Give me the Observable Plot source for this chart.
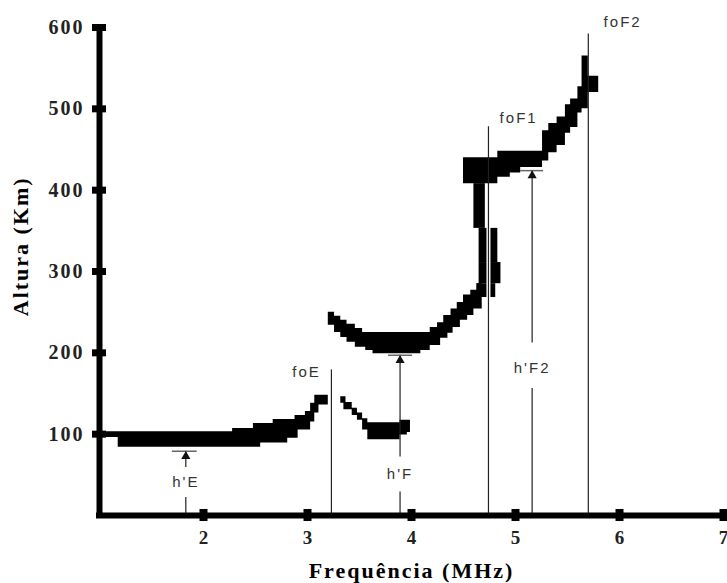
<!DOCTYPE html>
<html>
<head>
<meta charset="utf-8">
<script src="https://cdn.jsdelivr.net/npm/d3@7"></script>
<script src="https://cdn.jsdelivr.net/npm/@observablehq/plot@0.6"></script>
<style>
  html, body { margin: 0; padding: 0; background: #fff; }
  #chart svg text { letter-spacing: 2px; }
</style>
</head>
<body>
<div id="chart"></div>
<script>
// Tick values
const xTicks = [2, 3, 4, 5, 6, 7];
const yTicks = [100, 200, 300, 400, 500, 600];

// E-layer trace (frequency MHz, lower / upper virtual height km)
const eFreq = [1.03, 1.18, 2.28, 2.48, 2.55, 2.67, 2.81, 2.88, 2.91, 2.98, 3.03, 3.07, 3.11, 3.20];
const eLow  = [96,   84,   84,   84,   89,   89,   95,   95,   105,  105,  115,  126,  136,  136];
const eHigh = [103,  103,  107,  113,  113,  118,  118,  123,  123,  128,  138,  148,  148,  148];

// Lower F trace (after foE)
const lfFreq = [3.32, 3.35, 3.37, 3.43, 3.48, 3.53, 3.58, 3.89, 3.96, 3.99];
const lfLow  = [138,  130,  130,  123,  117,  105,  93,   99,   102,  102];
const lfHigh = [146,  146,  139,  132,  126,  119,  114,  117,  117,  117];

// F1 trace (U-shape)
const ufFreq = [3.20, 3.26, 3.32, 3.38, 3.46, 3.53, 3.56, 3.63, 4.09, 4.18, 4.25, 4.28, 4.31, 4.35, 4.38, 4.40, 4.44, 4.47, 4.50, 4.54, 4.57, 4.60, 4.63, 4.68];
const ufLow  = [234,  225,  219,  213,  207,  207,  203,  199,  203,  209,  209,  218,  218,  224,  224,  231,  231,  240,  240,  246,  246,  254,  254,  254];
const ufHigh = [250,  245,  240,  235,  230,  225,  225,  225,  225,  231,  237,  237,  246,  246,  254,  254,  262,  262,  271,  271,  277,  277,  285,  285];

// Near-vertical part at foF1 (height bands with frequency extents)
const vLow   = [268, 285, 311, 353];
const vHigh  = [285, 311, 353, 408];
const vLeft  = [4.63, 4.65, 4.65, 4.60];
const vRight = [4.81, 4.86, 4.83, 4.71];

// F2 trace
const tFreq = [4.50, 4.83, 4.95, 5.05, 5.26, 5.32, 5.40, 5.48, 5.53, 5.60, 5.64, 5.70, 5.80];
const tLow  = [408,  416,  421,  428,  436,  446,  455,  470,  477,  495,  500,  520,  520];
const tHigh = [440,  448,  448,  448,  473,  482,  490,  505,  512,  527,  565,  540,  540];

// Critical frequencies
const critNames = ["foE", "foF1", "foF2"];
const critFreq  = [3.23, 4.74, 5.70];
const critTop   = [179, 478, 592];
const critLabelFreq = [2.99, 5.03, 6.03];
const critLabelH    = [176, 489, 607];

// Virtual heights (arrows)
const hNames  = ["h'E", "h'F", "h'F2"];
const hFreq   = [1.83, 3.89, 5.16];
const hValue  = [79, 197, 424];
const hLabelH = [41, 51, 181];
const hGapLow = [22, 29, 156];
const hGapHigh= [59, 72, 212];
const hBarL   = [1.70, 3.78, 5.05];
const hBarR   = [1.94, 4.01, 5.27];

const zip = (f, lo, hi) => f.map((x, i) => ({x, lo: lo[i], hi: hi[i]}));
const eData = zip(eFreq, eLow, eHigh);
const lfData = zip(lfFreq, lfLow, lfHigh);
const ufData = zip(ufFreq, ufLow, ufHigh);
const tData = zip(tFreq, tLow, tHigh);
const vData = vLow.map((lo, i) => ({lo, hi: vHigh[i], x1: vLeft[i], x2: vRight[i]}));
const crit = critNames.map((n, i) => ({n, f: critFreq[i], top: critTop[i], lf: critLabelFreq[i], lh: critLabelH[i]}));
const hv = hNames.map((n, i) => ({n, f: hFreq[i], v: hValue[i], lh: hLabelH[i], g1: hGapLow[i], g2: hGapHigh[i], b1: hBarL[i], b2: hBarR[i]}));

const serif = "'Times New Roman', 'Liberation Serif', serif";
const sans = "Arial, 'Liberation Sans', sans-serif";
const lineColor = "#222";

const trace = (d) => Plot.areaY(d, {x: "x", y1: "lo", y2: "hi", curve: "step-after", fill: "#000"});

const plot = Plot.plot({
  width: 727,
  height: 583,
  marginLeft: 99,
  marginRight: 4,
  marginTop: 27,
  marginBottom: 68,
  style: {background: "#fff", overflow: "visible"},
  x: {domain: [1, 7]},
  y: {domain: [0, 600]},
  marks: [
    // traces
    trace(eData),
    trace(lfData),
    trace(ufData),
    trace(tData),
    Plot.rect(vData, {x1: "x1", x2: "x2", y1: "lo", y2: "hi", fill: "#000"}),
    // white halo next to foF1 line
    Plot.ruleX([critFreq[1]], {x: d => d, y1: 250, y2: 405, stroke: "#fff", strokeWidth: 4}),
    // critical frequency lines
    Plot.ruleX(crit, {x: "f", y1: 0, y2: "top", stroke: lineColor, strokeWidth: 1.2}),
    Plot.text(crit, {x: "lf", y: "lh", text: "n", fontFamily: sans, fontSize: 15, fill: "#333"}),
    // virtual height arrows
    Plot.ruleX(hv, {x: "f", y1: 0, y2: "g1", stroke: lineColor, strokeWidth: 1.2}),
    Plot.ruleX(hv, {x: "f", y1: "g2", y2: "v", stroke: lineColor, strokeWidth: 1.2}),
    Plot.ruleY(hv, {y: "v", x1: "b1", x2: "b2", stroke: "#666", strokeWidth: 1.5}),
    Plot.dot(hv, {x: "f", y: "v", dy: 5, symbol: "triangle", r: 3.4, fill: "#111", stroke: "none"}),
    Plot.text(hv, {x: "f", y: "lh", text: "n", fontFamily: sans, fontSize: 15, fill: "#333"}),
    // axes lines
    Plot.ruleX([1], {x: d => d, y1: 0, y2: 600, stroke: "#000", strokeWidth: 6, insetTop: -2, insetBottom: -3}),
    Plot.ruleY([0], {y: d => d, x1: 1, x2: 7, stroke: "#000", strokeWidth: 6, insetLeft: -3}),
    // tick squares
    Plot.ruleX(xTicks, {x: d => d, y1: 0, y2: 0, insetTop: -6, insetBottom: -6, stroke: "#000", strokeWidth: 8}),
    Plot.ruleY(yTicks, {y: d => d, x1: 1, x2: 1, insetLeft: -7, insetRight: -7, stroke: "#000", strokeWidth: 7}),
    // tick labels
    Plot.axisX(xTicks, {tickSize: 0, tickPadding: 15, fontSize: 19, fontWeight: "bold", fontFamily: serif, label: null, fill: "#222", dx: 1}),
    Plot.axisY(yTicks, {tickSize: 0, tickPadding: 15, fontSize: 20, fontWeight: "bold", fontFamily: serif, label: null, fill: "#222"}),
    // axis titles
    Plot.text(["Frequência (MHz)"], {frameAnchor: "bottom", dy: 55, lineAnchor: "middle", textAnchor: "middle", fontFamily: serif, fontWeight: "bold", fontSize: 22, fill: "#000"}),
    Plot.text(["Altura (Km)"], {frameAnchor: "left", y: () => 331, dx: -79, rotate: -90, textAnchor: "middle", lineAnchor: "middle", fontFamily: serif, fontWeight: "bold", fontSize: 22, fill: "#000"})
  ]
});

document.getElementById("chart").appendChild(plot);
</script>
</body>
</html>
